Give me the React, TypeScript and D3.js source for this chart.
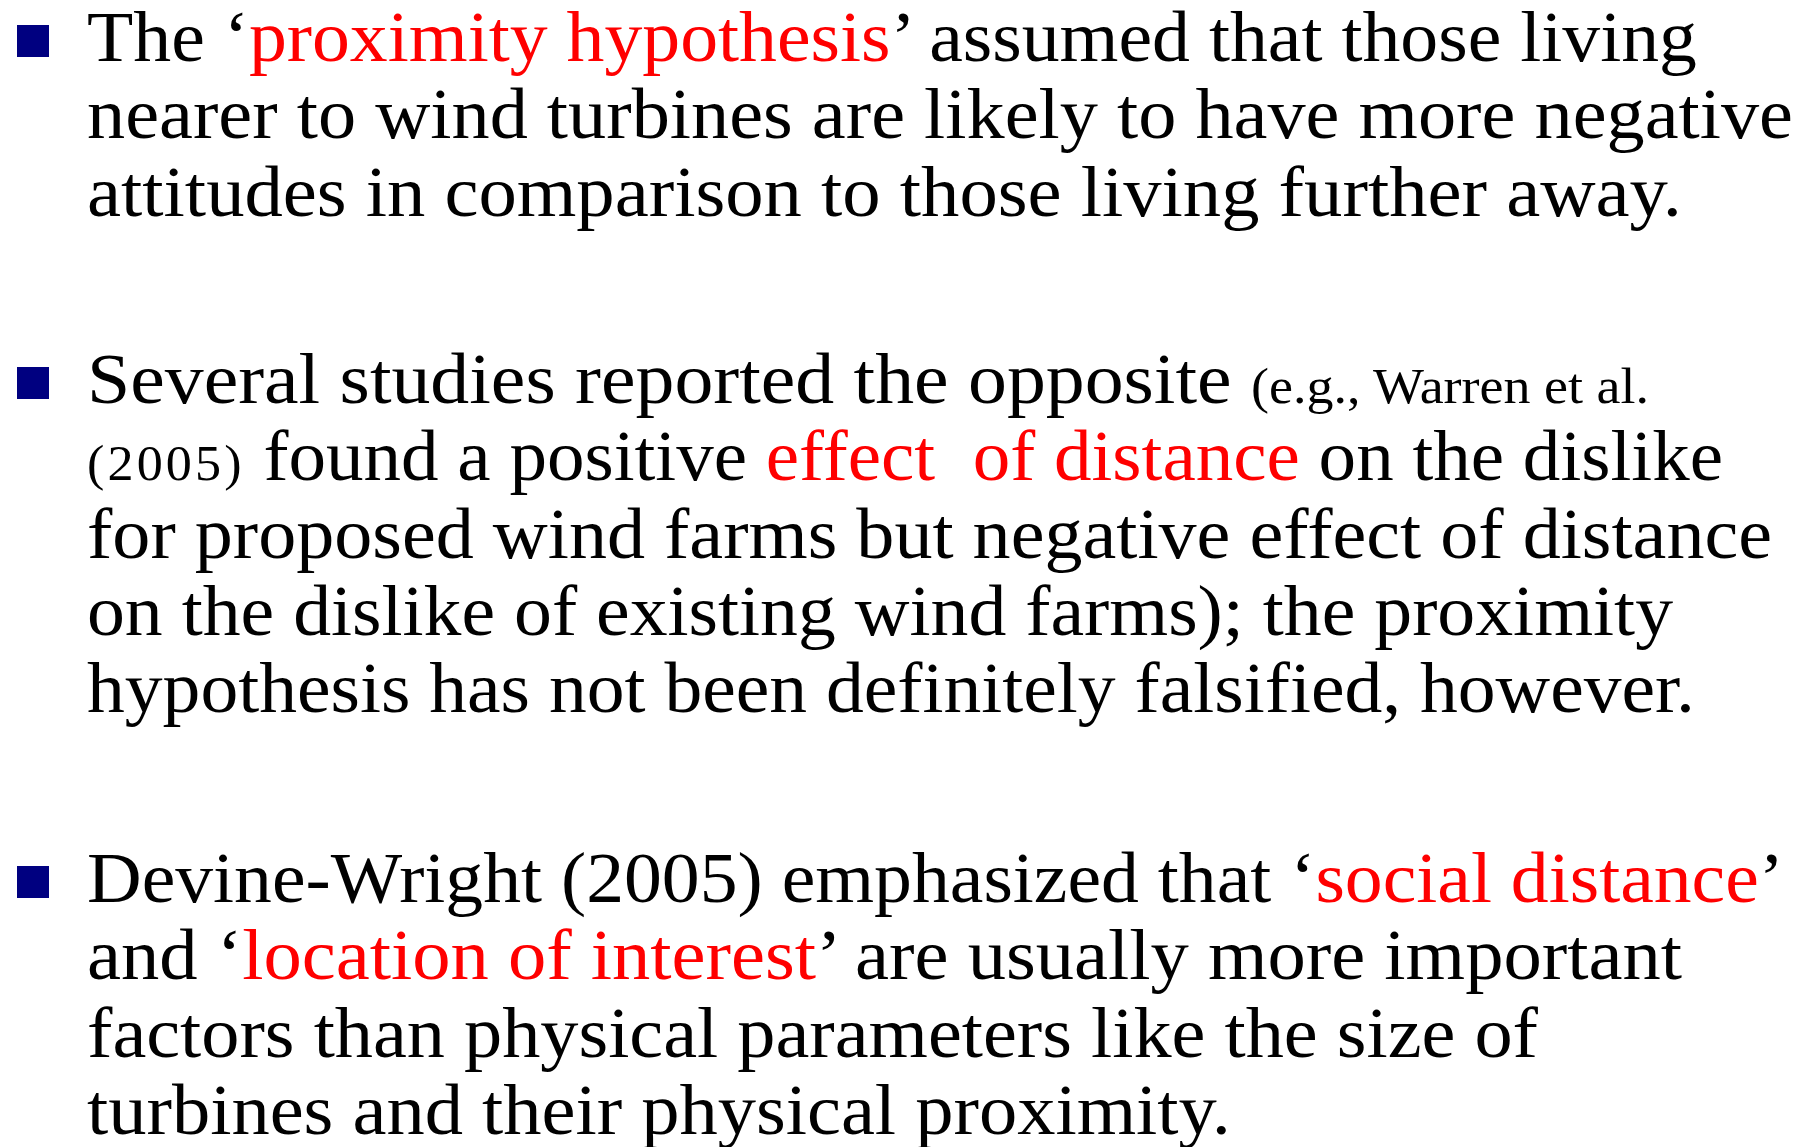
import React from "react";
import * as d3 from "d3";

type Seg = { t: string; red?: boolean; small?: boolean };

const paragraph1: Seg[][] = [
  [{ t: "The ‘" }, { t: "proximity hypothesis", red: true }, { t: "’ assumed that those living" }],
  [{ t: "nearer to wind turbines are likely to have more negative" }],
  [{ t: "attitudes in comparison to those living further away." }],
];
const paragraph2: Seg[][] = [
  [{ t: "Several studies reported the opposite " }, { t: "(e.g., Warren et al.", small: true }],
  [{ t: "(2005)", small: true }, { t: " found a positive " }, { t: "effect  of distance", red: true }, { t: " on the dislike" }],
  [{ t: "for proposed wind farms but negative effect of distance" }],
  [{ t: "on the dislike of existing wind farms); the proximity" }],
  [{ t: "hypothesis has not been definitely falsified, however." }],
];
const paragraph3: Seg[][] = [
  [{ t: "Devine-Wright (2005) emphasized that ‘" }, { t: "social distance", red: true }, { t: "’" }],
  [{ t: "and ‘" }, { t: "location of interest", red: true }, { t: "’ are usually more important" }],
  [{ t: "factors than physical parameters like the size of" }],
  [{ t: "turbines and their physical proximity." }],
];

const paragraphs = [paragraph1, paragraph2, paragraph3];
const firstBaselines = [61, 403, 902];
const lineEnds = [
  [1697, 1793, 1682],
  [1649, 1723, 1772, 1673, 1695],
  [1784, 1682, 1538, 1231],
];

const W = 1818;
const H = 1147;
const TEXT_X = 87;
const LINE_STEP = 77.3;
const FONT = "'Liberation Serif', 'Times New Roman', serif";

function segStyle(s: Seg) {
  if (!s.small) return { fontSize: 72, letterSpacing: 0 };
  const digitsOnly = /^\(\d+\)$/.test(s.t);
  return { fontSize: 50, letterSpacing: digitsOnly ? 3 : 0 };
}

export default function App() {
  const lineY = d3.scaleLinear().domain([0, 1]).range([0, LINE_STEP]);
  return (
    <svg
      width={W}
      height={H}
      viewBox={`0 0 ${W} ${H}`}
      style={{ position: "absolute", left: 0, top: 0, background: "#fff" }}
    >
      <rect x={0} y={0} width={W} height={H} fill="#fff" />
      {paragraphs.map((para, pi) => {
        const y0 = firstBaselines[pi];
        return (
          <g key={pi}>
            <rect x={17} y={y0 - 36} width={32} height={32} fill="#000080" />
            {para.map((line, li) => {
              const y = y0 + lineY(li);
              const len = lineEnds[pi][li] - TEXT_X;
              return (
                <text
                  key={li}
                  x={TEXT_X}
                  y={y}
                  fontFamily={FONT}
                  fontSize={72}
                  textLength={len}
                  lengthAdjust="spacingAndGlyphs"
                  style={{ whiteSpace: "pre" }}
                >
                  {line.map((s, si) => {
                    const st = segStyle(s);
                    return (
                      <tspan
                        key={si}
                        fill={s.red ? "#FF0000" : "#000"}
                        fontSize={st.fontSize}
                        letterSpacing={st.letterSpacing}
                      >
                        {s.t}
                      </tspan>
                    );
                  })}
                </text>
              );
            })}
          </g>
        );
      })}
    </svg>
  );
}
